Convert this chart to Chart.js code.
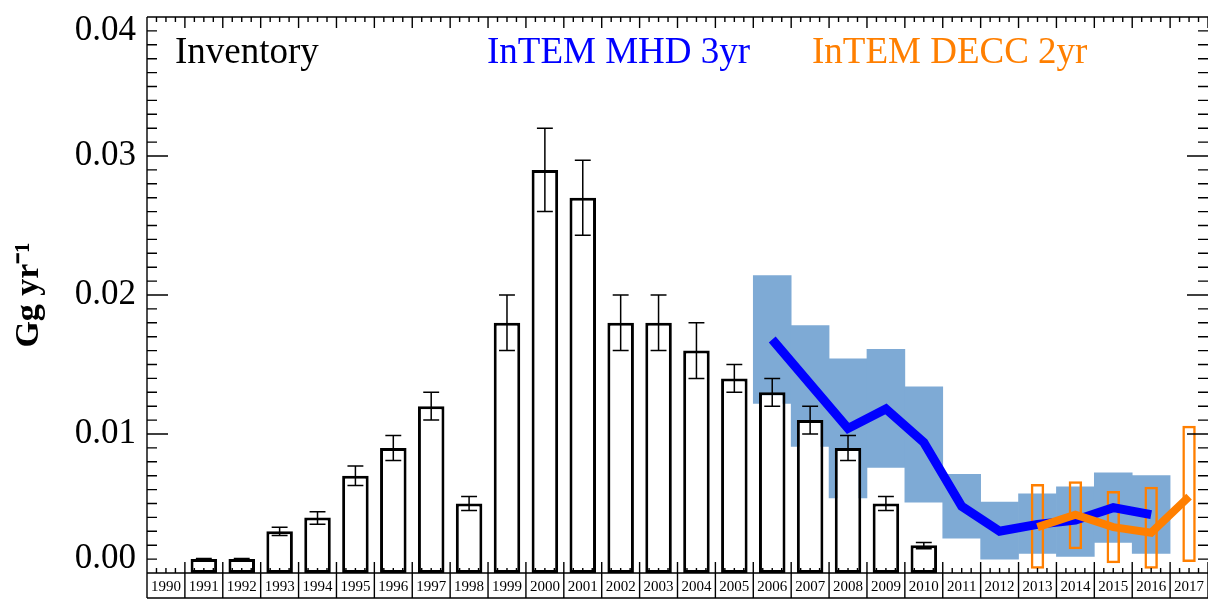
<!DOCTYPE html>
<html lang="en">

<head>
  <meta charset="UTF-8">
  <title>Inventory vs InTEM</title>
  <script src="https://cdn.jsdelivr.net/npm/chart.js@4.4.0/dist/chart.umd.min.js"></script>
  <style>
    html, body {
      margin: 0;
      padding: 0;
      background: #fff;
    }
    .plot-container {
      width: 1208px;
      height: 608px;
      position: relative;
    }
  </style>
</head>

<body>
  <div class="plot-container">
    <canvas id="plot"></canvas>
  </div>

  <script>
    // year labels along the bottom strip
    const years = [1990, 1991, 1992, 1993, 1994, 1995, 1996, 1997, 1998, 1999,
      2000, 2001, 2002, 2003, 2004, 2005, 2006, 2007, 2008, 2009,
      2010, 2011, 2012, 2013, 2014, 2015, 2016, 2017];

    // inventory bars with error bars
    const invYears = [1991, 1992, 1993, 1994, 1995, 1996, 1997, 1998, 1999, 2000,
      2001, 2002, 2003, 2004, 2005, 2006, 2007, 2008, 2009, 2010];
    const invValues = [0.001, 0.001, 0.003, 0.004, 0.007, 0.009, 0.012, 0.005, 0.018, 0.029,
      0.027, 0.018, 0.018, 0.016, 0.014, 0.013, 0.011, 0.009, 0.005, 0.002];
    const invLow = [0.00095, 0.00095, 0.0027, 0.0035, 0.0063, 0.0081, 0.011, 0.0045, 0.016, 0.026,
      0.0243, 0.016, 0.016, 0.014, 0.013, 0.012, 0.010, 0.0081, 0.0045, 0.00175];
    const invHigh = [0.00105, 0.00105, 0.0033, 0.0044, 0.0077, 0.0099, 0.013, 0.0055, 0.020, 0.032,
      0.0297, 0.020, 0.020, 0.018, 0.015, 0.014, 0.012, 0.0099, 0.0055, 0.0022];

    // InTEM MHD 3yr: line + uncertainty band
    const mhdYears = [2006, 2007, 2008, 2009, 2010, 2011, 2012, 2013, 2014, 2015, 2016];
    const mhdValues = [0.0168, 0.0136, 0.0104, 0.0118, 0.0094, 0.0048, 0.0030, 0.0035, 0.0038, 0.0047, 0.0042];
    const mhdLow = [0.0122, 0.0091, 0.0054, 0.0076, 0.0051, 0.0025, 0.0010, 0.0014, 0.0012, 0.0022, 0.0014];
    const mhdHigh = [0.0214, 0.0178, 0.0154, 0.0161, 0.0134, 0.0071, 0.0051, 0.0057, 0.0062, 0.0072, 0.0070];

    // InTEM DECC 2yr: line + uncertainty boxes
    const deccYears = [2013, 2014, 2015, 2016, 2017];
    const deccValues = [0.0033, 0.0042, 0.0033, 0.0029, 0.0055];
    const deccLow = [0.0003, 0.0017, 0.0007, 0.0003, 0.0008];
    const deccHigh = [0.0064, 0.0066, 0.0059, 0.0062, 0.0106];

    const seriesNames = ['Inventory', 'InTEM MHD 3yr', 'InTEM DECC 2yr'];
    const seriesColors = ['#000000', '#0000ff', '#ff7f00'];
    const bandColor = '#7eaad5';
    const serif = '"Liberation Serif", "Times New Roman", serif';

    // a yearly value sits in the middle of its year cell
    const mid = (yr) => yr + 0.5;

    const errorBars = {
      id: 'errorBars',
      afterDatasetDraw(chart, args) {
        if (chart.data.datasets[args.index].label !== seriesNames[0]) return;
        const { ctx } = chart;
        const y = chart.scales.y;
        ctx.save();
        ctx.strokeStyle = '#000';
        ctx.lineWidth = 1.5;
        ctx.beginPath();
        args.meta.data.forEach((bar, i) => {
          const top = y.getPixelForValue(invHigh[i]);
          const bot = y.getPixelForValue(invLow[i]);
          const half = bar.width * 0.3;
          ctx.moveTo(bar.x, top); ctx.lineTo(bar.x, bot);
          ctx.moveTo(bar.x - half, top); ctx.lineTo(bar.x + half, top);
          ctx.moveTo(bar.x - half, bot); ctx.lineTo(bar.x + half, bot);
        });
        ctx.stroke();
        ctx.restore();
      }
    };

    // IDL-style frame: inward ticks on all sides, boxed year strip below
    const frame = {
      id: 'frame',
      afterDatasetsDraw(chart) {
        const { ctx, chartArea: a, scales: { x, y } } = chart;
        const stripBottom = a.bottom + 25;
        ctx.save();
        ctx.strokeStyle = '#000';
        ctx.lineWidth = 1.4;
        ctx.beginPath();
        ctx.moveTo(a.left, a.top); ctx.lineTo(a.right, a.top);
        ctx.moveTo(a.left, a.top); ctx.lineTo(a.left, stripBottom);
        ctx.moveTo(a.left, a.bottom); ctx.lineTo(a.right, a.bottom);
        ctx.moveTo(a.left, stripBottom); ctx.lineTo(a.right, stripBottom);
        for (let q = x.min * 4; q <= x.max * 4; q++) {
          const px = x.getPixelForValue(q / 4);
          const len = q % 4 === 0 ? 11 : 5;
          ctx.moveTo(px, a.bottom); ctx.lineTo(px, a.bottom - len);
          ctx.moveTo(px, a.top); ctx.lineTo(px, a.top + len);
          if (q % 4 === 0) {
            ctx.moveTo(px, a.bottom); ctx.lineTo(px, stripBottom);
          }
        }
        const k0 = Math.round(y.min * 1000);
        const k1 = Math.round(y.max * 1000);
        for (let k = k0; k <= k1; k++) {
          const py = y.getPixelForValue(k / 1000);
          const len = k % 10 === 0 ? 21 : 10;
          ctx.moveTo(a.left, py); ctx.lineTo(a.left + len, py);
          ctx.moveTo(a.right, py); ctx.lineTo(a.right - len, py);
        }
        ctx.stroke();

        // series names written inside the plot
        const xs = [175, 487, 812];
        ctx.font = '37px ' + serif;
        ctx.textBaseline = 'alphabetic';
        seriesNames.forEach((name, i) => {
          ctx.fillStyle = seriesColors[i];
          ctx.fillText(name, xs[i], 63);
        });
        ctx.restore();
      }
    };

    const data = {
      datasets: [{
        label: 'MHD band',
        data: mhdYears.map((yr, i) => ({ x: mid(yr), y: [mhdLow[i], mhdHigh[i]] })),
        backgroundColor: bandColor,
        borderWidth: 0,
        grouped: false,
        barPercentage: 1,
        categoryPercentage: 1,
        order: 6
      }, {
        label: seriesNames[0],
        data: invYears.map((yr, i) => ({ x: mid(yr), y: invValues[i] })),
        backgroundColor: '#ffffff',
        borderColor: '#000000',
        borderWidth: 3,
        borderSkipped: false,
        grouped: false,
        barPercentage: 0.7,
        categoryPercentage: 1,
        order: 5
      }, {
        label: 'DECC range',
        data: deccYears.map((yr, i) => ({ x: mid(yr), y: [deccLow[i], deccHigh[i]] })),
        backgroundColor: 'rgba(0,0,0,0)',
        borderColor: seriesColors[2],
        borderWidth: 2.5,
        borderSkipped: false,
        grouped: false,
        barPercentage: 0.355,
        categoryPercentage: 1,
        order: 4
      }, {
        type: 'line',
        label: seriesNames[1],
        data: mhdYears.map((yr, i) => ({ x: mid(yr), y: mhdValues[i] })),
        borderColor: seriesColors[1],
        borderWidth: 9,
        pointRadius: 0,
        fill: false,
        tension: 0,
        order: 3
      }, {
        type: 'line',
        label: seriesNames[2],
        data: deccYears.map((yr, i) => ({ x: mid(yr), y: deccValues[i] })),
        borderColor: seriesColors[2],
        borderWidth: 8,
        pointRadius: 0,
        fill: false,
        tension: 0,
        order: 2
      }]
    };

    const config = {
      type: 'bar',
      data,
      options: {
        responsive: true,
        maintainAspectRatio: false,
        animation: false,
        layout: { padding: { top: 17, left: 0, right: 0, bottom: 0 } },
        plugins: {
          legend: { display: false },
          tooltip: { enabled: false }
        },
        scales: {
          x: {
            type: 'linear',
            display: false,
            offset: false,
            min: years[0],
            max: years[years.length - 1] + 1,
            ticks: { stepSize: 1 }
          },
          xLab: {
            type: 'category',
            position: 'bottom',
            labels: years.map(String),
            offset: true,
            grid: { display: false, drawTicks: false },
            border: { display: false },
            ticks: {
              autoSkip: false,
              maxRotation: 0,
              padding: 5,
              color: '#000',
              font: { family: serif, size: 15 }
            },
            afterFit(scale) {
              scale.height = 35;
              scale.paddingLeft = 0;
              scale.paddingRight = 0;
            }
          },
          y: {
            min: 0,
            max: 0.04,
            grid: { display: false, drawTicks: false },
            border: { display: false },
            // the end labels sit a little inside the frame, as in the original
            afterBuildTicks(scale) {
              scale.ticks = [0.001, 0.01, 0.02, 0.03, 0.039].map(v => ({ value: v }));
            },
            ticks: {
              padding: 11,
              color: '#000',
              font: { family: serif, size: 35 },
              callback: (v) => (Math.round(v * 100) / 100).toFixed(2)
            },
            title: {
              display: true,
              text: 'Gg yr⁻¹',
              color: '#000',
              font: { family: serif, size: 34, weight: 'bold' },
              padding: { top: 9, bottom: 0 }
            },
            afterFit(scale) {
              scale.width = 147;
              scale.paddingTop = 0;
              scale.paddingBottom = 0;
            }
          }
        }
      },
      plugins: [errorBars, frame]
    };

    const plot = new Chart(document.getElementById('plot'), config);
  </script>
</body>

</html>
